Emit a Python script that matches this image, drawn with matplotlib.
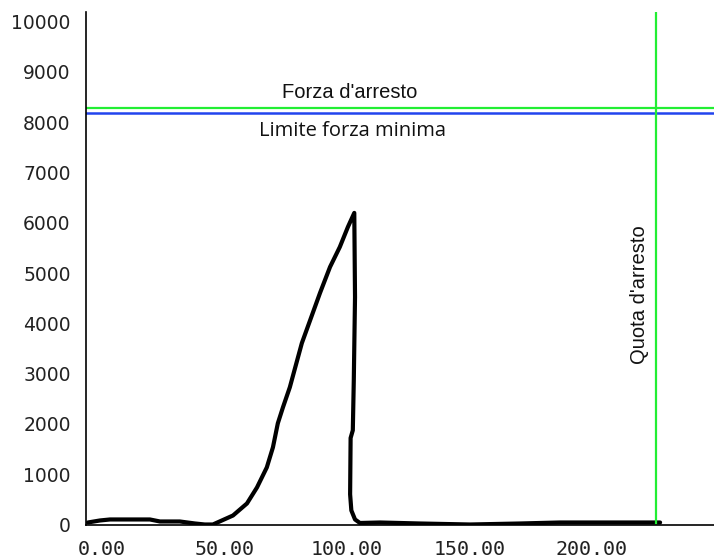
import matplotlib.pyplot as plt

# curve (x in chart units, y in N)
quota = [-5.7, -0.8, 3.3, 19.6, 23.7, 31.8, 38.0, 42.0, 45.3, 53.5, 59.2, 63.3,
         67.3, 69.8, 71.8, 73.9, 76.7, 81.6, 89.0, 93.1, 97.1, 100.4, 103.0,
         103.3, 102.8, 102.4, 101.5, 101.3, 101.8, 103.3, 105.3, 113.5, 129.8, 150.2,
         170.6, 186.9, 227.8]
forza = [40, 80, 100, 100, 60, 60, 20, 0, 0, 179, 418, 737,
         1135, 1534, 2012, 2331, 2729, 3606, 4602, 5120, 5518, 5916, 6195,
         4522, 2869, 1873, 1720, 600, 280, 100, 30, 40, 20, 0,
         20, 40, 40]

forza_arresto = 8290
limite_forza = 8190
quota_arresto = 226.1

xticks = [0, 50, 100, 150, 200]
xtick_labels = ["0.00", "50.00", "100.00", "150.00", "200.00"]
yticks = list(range(0, 10001, 1000))

fig = plt.figure(figsize=(7.14, 5.6), dpi=100)
ax = fig.add_axes([0.1204, 0.0625, 0.8796, 0.9161])

ax.plot(quota, forza, color="black", lw=3.0, solid_capstyle="round", solid_joinstyle="round")
ax.axhline(forza_arresto, color="#22ee33", lw=1.6)
ax.axhline(limite_forza, color="#2244ee", lw=1.8)
ax.axvline(quota_arresto, color="#22ee33", lw=1.6)

ax.text(101.2, 8586, "Forza d'arresto", family="Liberation Sans", fontsize=14.5,
        ha="center", va="center", color="#111")
ax.text(102.4, 7829, "Limite forza minima", family="Open Sans", fontsize=14.5,
        ha="center", va="center", color="#111")
ax.text(219.6, 4562, "Quota d'arresto", family="Liberation Sans", fontsize=14.5,
        rotation=90, ha="center", va="center", color="#111")

ax.set_xlim(-6.5, 249.8)
ax.set_ylim(-10, 10190)
ax.set_xticks(xticks)
ax.set_xticklabels(xtick_labels, family="DejaVu Sans Mono", fontsize=14.4, color="#222")
ax.set_yticks(yticks)
ax.set_yticklabels([str(v) for v in yticks], family="DejaVu Sans", fontsize=13.5, color="#222")
ax.tick_params(axis="x", length=0, pad=11)
ax.tick_params(axis="y", length=0, pad=11)

for s in ["top", "right"]:
    ax.spines[s].set_visible(False)
for s in ["left", "bottom"]:
    ax.spines[s].set_linewidth(1.2)

fig.savefig("out.png", dpi=100)
